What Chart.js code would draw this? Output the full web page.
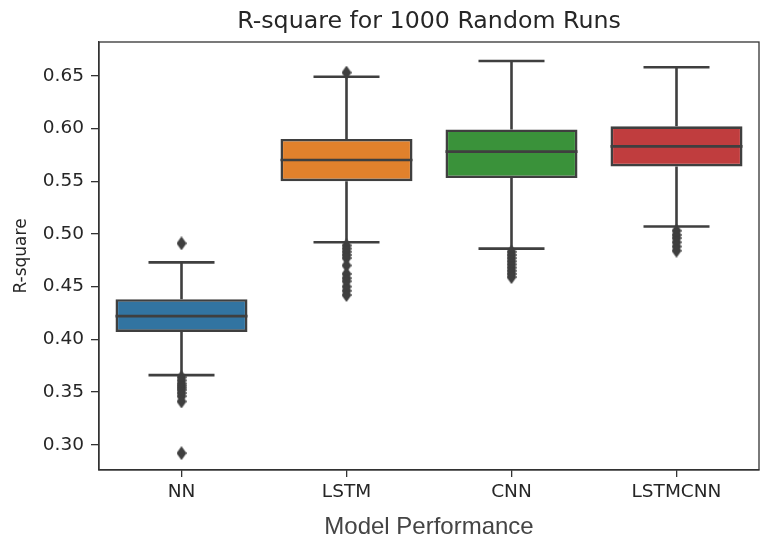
<!DOCTYPE html>
<html>
<head>
<meta charset="utf-8">
<script src="https://cdn.jsdelivr.net/npm/chart.js@4"></script>
<style>
  body { margin: 0; background: #fff; }
  #wrap { width: 766px; height: 539px; }
</style>
</head>
<body>
<div id="wrap"><canvas id="boxChart" width="766" height="539"></canvas></div>
<script>
const chartTitle = 'R-square for 1000 Random Runs';
const categories = ['NN', 'LSTM', 'CNN', 'LSTMCNN'];
const q1 = [0.407, 0.550, 0.553, 0.564];
const median = [0.422, 0.570, 0.578, 0.583];
const q3 = [0.438, 0.590, 0.599, 0.602];
const whiskerLow = [0.366, 0.492, 0.486, 0.507];
const whiskerHigh = [0.473, 0.649, 0.664, 0.658];
const outliersNN = [0.491, 0.364, 0.361, 0.358, 0.356, 0.354, 0.352, 0.349, 0.346, 0.341, 0.292];
const outliersLSTM = [0.653, 0.489, 0.486, 0.483, 0.480, 0.477, 0.470, 0.462, 0.458, 0.455, 0.450, 0.446, 0.442];
const outliersCNN = [0.483, 0.480, 0.477, 0.474, 0.471, 0.468, 0.465, 0.462, 0.459];
const outliersLSTMCNN = [0.503, 0.499, 0.496, 0.492, 0.488, 0.484];
const yTicks = [0.30, 0.35, 0.40, 0.45, 0.50, 0.55, 0.60, 0.65];

const boxColors = ['#3274a1', '#e1812c', '#3a923a', '#c03d3e'];
const lineColor = '#3f3f3f';

const outlierPoints = [];
[outliersNN, outliersLSTM, outliersCNN, outliersLSTMCNN].forEach((list, i) => {
    list.forEach(v => outlierPoints.push({ x: categories[i], y: v }));
});

// thin diamond marker like matplotlib's 'd'
const diamond = document.createElement('canvas');
diamond.width = 10;
diamond.height = 14;
(() => {
    const c = diamond.getContext('2d');
    c.fillStyle = lineColor;
    c.beginPath();
    c.moveTo(5, 0);
    c.lineTo(10, 7);
    c.lineTo(5, 14);
    c.lineTo(0, 7);
    c.closePath();
    c.fill();
})();

// whiskers under the boxes; medians, frame and axes-centred title on top
const boxParts = {
    id: 'boxParts',
    beforeDatasetsDraw(chart) {
        const ctx = chart.ctx;
        const y = chart.scales.y;
        const bars = chart.getDatasetMeta(0).data;
        ctx.save();
        ctx.strokeStyle = lineColor;
        ctx.lineWidth = 2.6;
        bars.forEach((bar, i) => {
            const x = bar.x;
            const half = bar.width / 4;
            ctx.beginPath();
            ctx.moveTo(x, y.getPixelForValue(whiskerLow[i]));
            ctx.lineTo(x, y.getPixelForValue(q1[i]));
            ctx.moveTo(x, y.getPixelForValue(q3[i]));
            ctx.lineTo(x, y.getPixelForValue(whiskerHigh[i]));
            ctx.moveTo(x - half, y.getPixelForValue(whiskerLow[i]));
            ctx.lineTo(x + half, y.getPixelForValue(whiskerLow[i]));
            ctx.moveTo(x - half, y.getPixelForValue(whiskerHigh[i]));
            ctx.lineTo(x + half, y.getPixelForValue(whiskerHigh[i]));
            ctx.stroke();
        });
        ctx.restore();
    },
    afterDatasetsDraw(chart) {
        const ctx = chart.ctx;
        const y = chart.scales.y;
        const bars = chart.getDatasetMeta(0).data;
        ctx.save();
        ctx.strokeStyle = lineColor;
        ctx.lineWidth = 2.6;
        bars.forEach((bar, i) => {
            const py = y.getPixelForValue(median[i]);
            ctx.beginPath();
            ctx.moveTo(bar.x - bar.width / 2, py);
            ctx.lineTo(bar.x + bar.width / 2, py);
            ctx.stroke();
        });
        const a = chart.chartArea;
        ctx.strokeStyle = '#333';
        ctx.lineWidth = 1.3;
        ctx.strokeRect(a.left, a.top, a.right - a.left, a.bottom - a.top);

        ctx.fillStyle = '#262626';
        ctx.font = '23.7px "DejaVu Sans"';
        ctx.textAlign = 'center';
        ctx.textBaseline = 'middle';
        ctx.fillText(chartTitle, (a.left + a.right) / 2, 22);
        ctx.restore();
    }
};

new Chart(document.getElementById('boxChart'), {
    type: 'bar',
    data: {
        labels: categories,
        datasets: [
            {
                data: categories.map((c, i) => [q1[i], q3[i]]),
                backgroundColor: boxColors,
                borderColor: lineColor,
                borderWidth: 2.6,
                borderSkipped: false,
                barPercentage: 0.8,
                categoryPercentage: 1.0
            },
            {
                type: 'line',
                data: outlierPoints,
                showLine: false,
                pointStyle: diamond,
                pointRadius: 5
            }
        ]
    },
    options: {
        responsive: false,
        animation: false,
        layout: { padding: { left: 0, right: 7, top: 42, bottom: 0 } },
        plugins: {
            legend: { display: false },
            tooltip: { enabled: false },
            title: { display: false }
        },
        scales: {
            x: {
                grid: { display: true, drawOnChartArea: false, offset: false, color: '#333', tickLength: 7, lineWidth: 1.3 },
                border: { display: true, color: '#333', width: 1.3 },
                ticks: { color: '#262626', font: { family: 'DejaVu Sans', size: 18.5 }, padding: 4 },
                title: {
                    display: true,
                    text: 'Model Performance',
                    color: '#444',
                    font: { family: 'Liberation Sans', size: 24, lineHeight: 1.0 },
                    padding: { top: 0, bottom: 0 }
                },
                afterFit(scale) { scale.height = 69; }
            },
            y: {
                min: 0.276,
                max: 0.682,
                grid: { display: true, drawOnChartArea: false, color: '#333', tickLength: 8, lineWidth: 1.3 },
                border: { display: true, color: '#333', width: 1.3 },
                ticks: {
                    color: '#262626',
                    font: { family: 'DejaVu Sans', size: 18.5 },
                    padding: 7,
                    callback: v => v.toFixed(2)
                },
                afterBuildTicks(scale) {
                    scale.ticks = yTicks.map(v => ({ value: v }));
                },
                title: {
                    display: true,
                    text: 'R-square',
                    color: '#262626',
                    font: { family: 'DejaVu Sans', size: 17 },
                    padding: { top: 11, bottom: 4 }
                },
                afterFit(scale) { scale.width = 99; }
            }
        }
    },
    plugins: [boxParts]
});
</script>
</body>
</html>
